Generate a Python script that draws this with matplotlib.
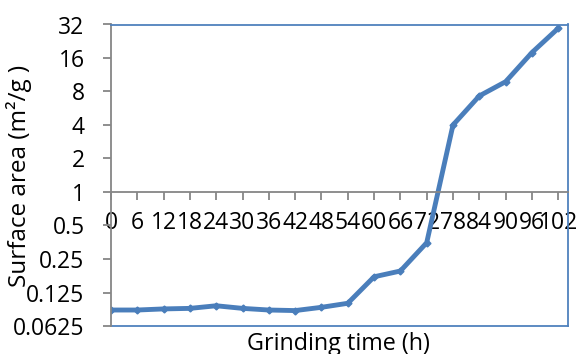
import numpy as np
import matplotlib
matplotlib.use("Agg")
import matplotlib.pyplot as plt

plt.rcParams['font.family'] = ['Open Sans', 'DejaVu Sans']

# grinding time categories (h) and surface area (m2/g)
hours = [0, 6, 12, 18, 24, 30, 36, 42, 48, 54, 60, 66, 72, 78, 84, 90, 96, 102]
area = [0.087, 0.087, 0.089, 0.090, 0.095, 0.090, 0.087, 0.086, 0.092, 0.100,
        0.173, 0.195, 0.35, 4.0, 7.3, 9.8, 17.9, 29.6]
ytick_vals = [0.0625, 0.125, 0.25, 0.5, 1, 2, 4, 8, 16, 32]
ytick_labels = ['0.0625', '0.125', '0.25', '0.5', '1', '2', '4', '8', '16', '32']

blue = '#4a7ebb'
grey = '#868686'

fig = plt.figure(figsize=(5.8, 3.54), dpi=100)
ax = fig.add_axes([111/580, 1-326/354, (567.7-111)/580, (326-24.5)/354])

x = np.arange(len(hours))
ax.plot(x, area, color=blue, lw=3.5, marker='D', ms=3.5, mec=blue, mfc=blue,
        solid_joinstyle='round')

ax.set_yscale('log', base=2)
ax.set_ylim(0.0625, 32)
ax.set_yticks(ytick_vals)
ax.set_yticklabels(ytick_labels)
ax.minorticks_off()
ax.set_xlim(0, len(hours) - 1 + 0.36)
ax.set_xticks(x)
ax.set_xticklabels([str(h) for h in hours])

ax.spines['bottom'].set_position(('data', 1))
ax.spines['bottom'].set_color(grey)
ax.spines['left'].set_color(grey)
ax.spines['bottom'].set_linewidth(1.3)
ax.spines['left'].set_linewidth(1.3)
for s in ['top', 'right']:
    ax.spines[s].set_color('#4f81bd')
    ax.spines[s].set_linewidth(1.3)
ax.plot([0, 1], [0, 0], transform=ax.transAxes, color='#4f81bd', lw=1.3,
        clip_on=False, zorder=1)

ax.tick_params(axis='x', direction='out', length=6, width=1.3, color=grey,
               labelsize=16.5, pad=8)
ax.tick_params(axis='y', direction='out', length=6, width=1.3, color=grey,
               labelsize=16.5, pad=13)

fig.text(338/580, 1-350/354, 'Grinding time (h)', ha='center', va='baseline',
         fontsize=16.8)
fig.text(19/580, 1-176/354, 'Surface area (m\u00b2/g )', ha='center', va='center',
         rotation=90, fontsize=17.5)

fig.savefig('out.png', dpi=100)
